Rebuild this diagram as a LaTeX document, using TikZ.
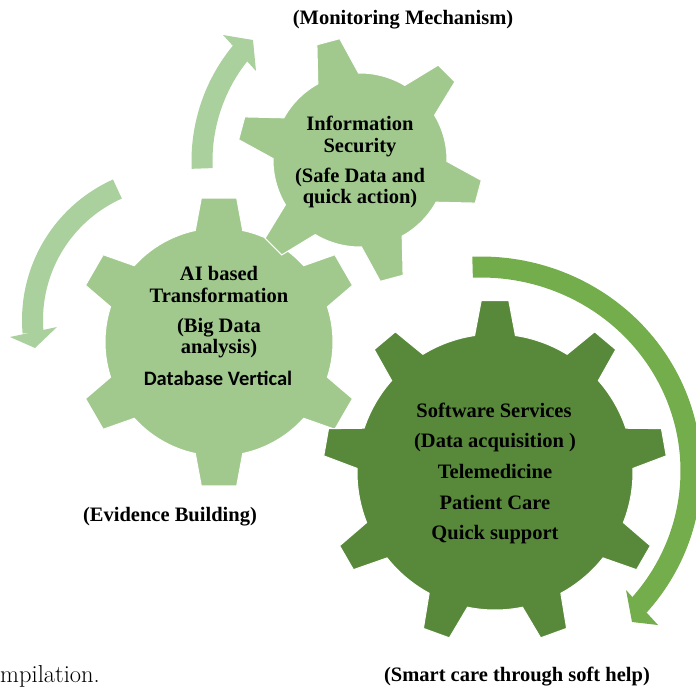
\documentclass[tikz,border=0pt]{standalone}
\usepackage{fontspec}
\newfontfamily\labelfont{Liberation Serif}
\newfontfamily\sanslabel{Carlito}

\definecolor{gearlight}{RGB}{161,201,142}
\definecolor{arrowlight}{RGB}{170,208,157}
\definecolor{geardark}{RGB}{88,137,59}
\definecolor{arrowmid}{RGB}{116,174,76}

% Gear outline: #1 style, #2/#3 centre, #4 body radius, #5 tip radius,
% #6 number of teeth, #7 angle of the first tooth, #8 half-angle at the
% tooth root, #9 half-angle at the tooth tip
\newcommand{\gearfill}[9]{%
  \fill[#1] ({#2+#4*cos(#7-360/#6+#8)},{#3+#4*sin(#7-360/#6+#8)})
    \foreach \i [evaluate=\i as \ga using #7+(\i-1)*360/#6,
                 evaluate=\i as \da using #7+(\i-2)*360/#6+#8,
                 evaluate=\i as \db using #7+(\i-1)*360/#6-#8] in {1,...,#6} {
      -- plot[domain=\da:\db, samples=14, variable=\q] ({#2+#4*cos(\q)},{#3+#4*sin(\q)})
      -- ({#2+#5*cos(\ga-#9)},{#3+#5*sin(\ga-#9)})
      -- ({#2+#5*cos(\ga+#9)},{#3+#5*sin(\ga+#9)})
      -- ({#2+#4*cos(\ga+#8)},{#3+#4*sin(\ga+#8)})
    } -- cycle;}

\tikzset{
  gearedge/.style={draw=white, line width=1pt},
  band/.style={line width=21pt},
  lbl/.style={font=\labelfont\bfseries\fontsize{20.5}{22}\selectfont, inner sep=0pt, anchor=base},
  sanslbl/.style={font=\sanslabel\bfseries\fontsize{20.5}{22}\selectfont, inner sep=0pt, anchor=base},
}

\begin{document}
\begin{tikzpicture}[x=1pt, y=-1pt]
\useasboundingbox (0,0) rectangle (696,689);
\clip (0,0) rectangle (696,689);

% gears
\gearfill{gearlight, gearedge}{219}{342}{114}{145}{6}{270}{12}{7}
\gearfill{gearlight, gearedge}{360}{160}{87}{123}{6}{255}{14}{5.5}
\gearfill{geardark, gearedge}{495}{472}{138}{172}{9}{270}{8.5}{4.6}

% circular arrows
\coordinate (upA1) at (223,35);  \coordinate (upTip) at (253,40);  \coordinate (upA2) at (256,71);
\coordinate (dnA1) at (10,337);  \coordinate (dnTip) at (35,348);  \coordinate (dnA2) at (57,327);
\coordinate (bgA1) at (626,590); \coordinate (bgTip) at (632,622); \coordinate (bgA2) at (658,625);

\draw[arrowlight, band] plot[domain=177.5:219.6, samples=40, variable=\q]
  ({373+171*cos(\q)},{161+171*sin(\q)});
\fill[arrowlight] (upA1) -- (upTip) -- (upA2) -- cycle;

\draw[arrowlight, band] plot[domain=245.9:174.9, samples=50, variable=\q]
  ({176+143.5*cos(\q)},{320+143.5*sin(\q)});
\fill[arrowlight] (dnA1) -- (dnTip) -- (dnA2) -- cycle;

\draw[arrowmid, band] plot[domain=-92.3:41.3, samples=90, variable=\q]
  ({481+210*cos(\q)},{471+204*sin(\q)});
\fill[arrowmid] (bgA1) -- (bgTip) -- (bgA2) -- cycle;

% labels
\node[lbl] (mon) at (403,24) {(Monitoring Mechanism)};

\node[lbl] (is1) at (360,130) {Information};
\node[lbl] (is2) at (360,152) {Security};
\node[lbl] (is3) at (360,182) {(Safe Data and};
\node[lbl] (is4) at (360,203) {quick action)};

\node[lbl] (ai1) at (219,280) {AI based};
\node[lbl] (ai2) at (219,302) {Transformation};
\node[lbl] (ai3) at (219,332) {(Big Data};
\node[lbl] (ai4) at (219,353) {analysis)};
\node[sanslbl] (ai5) at (218,385) {Database Vertical};

\node[lbl] (sw1) at (494,417) {Software Services};
\node[lbl] (sw2) at (495,447) {(Data acquisition )};
\node[lbl] (sw3) at (495,478) {Telemedicine};
\node[lbl] (sw4) at (495,509) {Patient Care};
\node[lbl] (sw5) at (495,539) {Quick support};

\node[lbl] (evi) at (170,521) {(Evidence Building)};
\node[lbl] (smc) at (517,681) {(Smart care through soft help)};

\node[font=\fontsize{24.5}{27}\selectfont, inner sep=0pt, anchor=base west] (cap) at (0,682) {mpilation.};
\end{tikzpicture}
\end{document}
